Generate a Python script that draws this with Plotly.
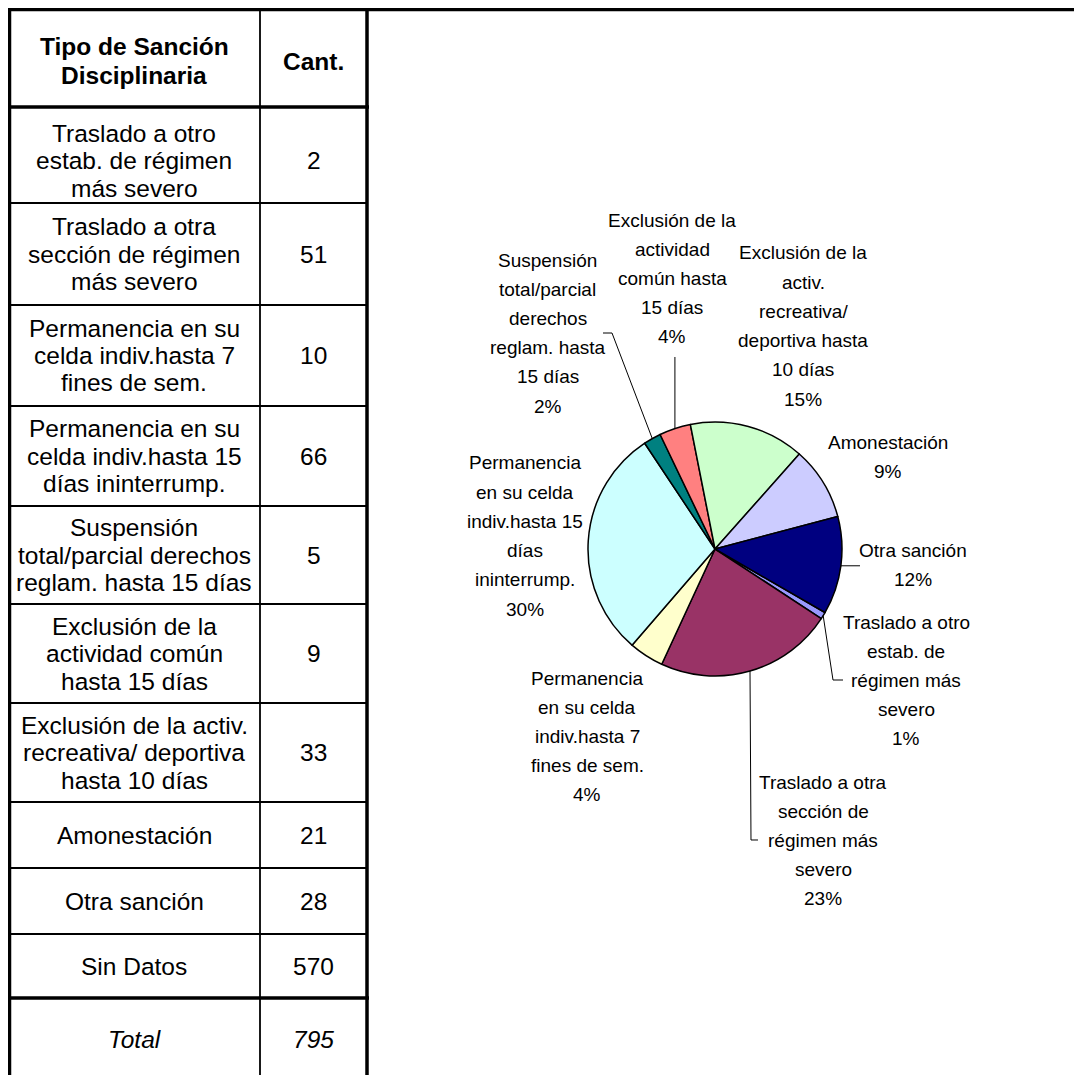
import math
import plotly.graph_objects as go

W, H = 1082, 1075

# ---------------- data ----------------
header_labels = ["Tipo de Sanción<br>Disciplinaria", "Cant."]
table_labels = [
    "Traslado a otro<br>estab. de régimen<br>más severo",
    "Traslado a otra<br>sección de régimen<br>más severo",
    "Permanencia en su<br>celda indiv.hasta 7<br>fines de sem.",
    "Permanencia en su<br>celda indiv.hasta 15<br>días ininterrump.",
    "Suspensión<br>total/parcial derechos<br>reglam. hasta 15 días",
    "Exclusión de la<br>actividad común<br>hasta 15 días",
    "Exclusión de la activ.<br>recreativa/ deportiva<br>hasta 10 días",
    "Amonestación",
    "Otra sanción",
    "Sin Datos",
]
counts = [2, 51, 10, 66, 5, 9, 33, 21, 28, 570]
total_label = "Total"
total_value = 795

pie_categories = [t.replace("<br>", " ") for t in table_labels[:9]]
pie_values = counts[:9]
pie_label_text = [
    "Traslado a otro<br>estab. de<br>régimen más<br>severo",
    "Traslado a otra<br>sección de<br>régimen más<br>severo",
    "Permanencia<br>en su celda<br>indiv.hasta 7<br>fines de sem.",
    "Permanencia<br>en su celda<br>indiv.hasta 15<br>días<br>ininterrump.",
    "Suspensión<br>total/parcial<br>derechos<br>reglam. hasta<br>15 días",
    "Exclusión de la<br>actividad<br>común hasta<br>15 días",
    "Exclusión de la<br>activ.<br>recreativa/<br>deportiva hasta<br>10 días",
    "Amonestación",
    "Otra sanción",
]
pie_pct_text = ["1%", "23%", "4%", "30%", "2%", "4%", "15%", "9%", "12%"]
pie_colors = ["#9999FF", "#993366", "#FFFFCC", "#CCFFFF", "#008080",
              "#FF8080", "#CCFFCC", "#CCCCFF", "#000080"]

# ---------------- layout constants (page coordinates) ----------------
OFF = 8  # page margin of the html body
TABLE_FONT = "Liberation Sans, Arial, sans-serif"
PIE_FONT = "Liberation Sans, Arial, sans-serif"
row_edges = [107, 203, 305, 406, 506, 604, 703, 802, 868, 934, 998, 1075]
row_dy = [6, 0, 0, 0, 0, 0, 0, 0, 0, 0]
x_left, x_div, x_right, y_top = 9.5, 260, 367, 9.5
col1_cx, col2_cx = 134, 313.5
TBL_SIZE = 24.5
TBL_LS = 27.5

PIE_CX, PIE_CY, PIE_R = 715, 549, 127
ROTATION = 120
PIE_SIZE = 19
PIE_LS = 29.2
# (center x, first-line y) for each pie label
label_pos = [(906, 622), (823, 782), (587, 678), (525, 463), (547.5, 260),
             (672.5, 220), (803, 253), (887.5, 442), (913, 550)]
# elbow points of leader lines (from label side toward the slice)
leader_pts = {
    0: [(843, 680), (833, 680)],
    1: [(758, 840), (751, 840)],
    4: [(603, 333), (612, 333)],
    5: [(None, 357)],
    8: [(860, None)],
}


def px(x):
    return (x - OFF) / W


def py(y):
    return 1 - (y - OFF) / H


fig = go.Figure()

fig.add_trace(go.Pie(
    labels=pie_categories, values=pie_values, sort=False,
    direction="clockwise", rotation=ROTATION,
    marker=dict(colors=pie_colors, line=dict(color="black", width=1.5)),
    textinfo="none", hoverinfo="label+value+percent", showlegend=False,
    domain=dict(x=[px(PIE_CX - PIE_R), px(PIE_CX + PIE_R)],
                y=[py(PIE_CY + PIE_R), py(PIE_CY - PIE_R)]),
))

shapes = []
annotations = []


def hline(y, x0, x1, w):
    shapes.append(dict(type="line", xref="paper", yref="paper",
                       x0=px(x0), x1=px(x1), y0=py(y), y1=py(y),
                       line=dict(color="black", width=w)))


def vline(x, y0, y1, w):
    shapes.append(dict(type="line", xref="paper", yref="paper",
                       x0=px(x), x1=px(x), y0=py(y0), y1=py(y1),
                       line=dict(color="black", width=w)))


def text(x, y, s, size, family, bold=False, italic=False):
    annotations.append(dict(
        xref="paper", yref="paper", x=px(x), y=py(y), text=s,
        showarrow=False, xanchor="center", yanchor="middle",
        font=dict(family=family, size=size, color="black",
                  weight="bold" if bold else "normal",
                  style="italic" if italic else "normal")))


# ---------------- table ----------------
THICK, THIN = 3.5, 1.8
hline(y_top, x_left - 2, W + OFF, THICK)
vline(x_left, y_top, H + OFF, THICK)
vline(x_right, y_top, H + OFF, THICK)
vline(x_div, y_top, H + OFF, THIN)
hline(row_edges[0], x_left, x_right + 2, THICK)
for yy in row_edges[1:-2]:
    hline(yy, x_left, x_right, THIN)
hline(row_edges[-2], x_left, x_right + 2, THICK)


def multiline(cx, cy, s, size, family, ls, **kw):
    lines = s.split("<br>")
    n = len(lines)
    for k, ln in enumerate(lines):
        text(cx, cy + (k - (n - 1) / 2) * ls, ln, size, family, **kw)


hc = (y_top + row_edges[0]) / 2
multiline(col1_cx, hc + 3, header_labels[0], TBL_SIZE, TABLE_FONT, 29, bold=True)
multiline(col2_cx, hc + 3, header_labels[1], TBL_SIZE, TABLE_FONT, 29, bold=True)
for i, (lab, val) in enumerate(zip(table_labels, counts)):
    cy = (row_edges[i] + row_edges[i + 1]) / 2 + row_dy[i]
    multiline(col1_cx, cy, lab, TBL_SIZE, TABLE_FONT, TBL_LS)
    text(col2_cx, cy, str(val), TBL_SIZE, TABLE_FONT)
cy = (row_edges[-2] + row_edges[-1]) / 2 + 3
text(col1_cx, cy, total_label, TBL_SIZE, TABLE_FONT, italic=True)
text(col2_cx, cy, str(total_value), TBL_SIZE, TABLE_FONT, italic=True)

# ---------------- pie labels ----------------
tot = sum(pie_values)
cum = 0
for i, v in enumerate(pie_values):
    mid = math.radians(ROTATION + 360 * (cum + v / 2) / tot)
    cum += v
    ex = PIE_CX + PIE_R * math.sin(mid)
    ey = PIE_CY - PIE_R * math.cos(mid)
    lx, ly = label_pos[i]
    lines = pie_label_text[i].split("<br>") + [pie_pct_text[i]]
    for k, ln in enumerate(lines):
        text(lx, ly + k * PIE_LS, ln, PIE_SIZE, PIE_FONT)
    if i in leader_pts:
        pts = []
        for (a, b) in leader_pts[i]:
            pts.append((ex if a is None else a, ey if b is None else b))
        pts.append((ex, ey))
        path = "M " + " L ".join(f"{px(a):.5f},{py(b):.5f}" for a, b in pts)
        shapes.append(dict(type="path", xref="paper", yref="paper", path=path,
                           line=dict(color="black", width=1)))

fig.update_layout(
    width=W, height=H, margin=dict(l=0, r=0, t=0, b=0),
    paper_bgcolor="white", plot_bgcolor="white",
    shapes=shapes, annotations=annotations, showlegend=False,
)
fig.write_html("out.html")
